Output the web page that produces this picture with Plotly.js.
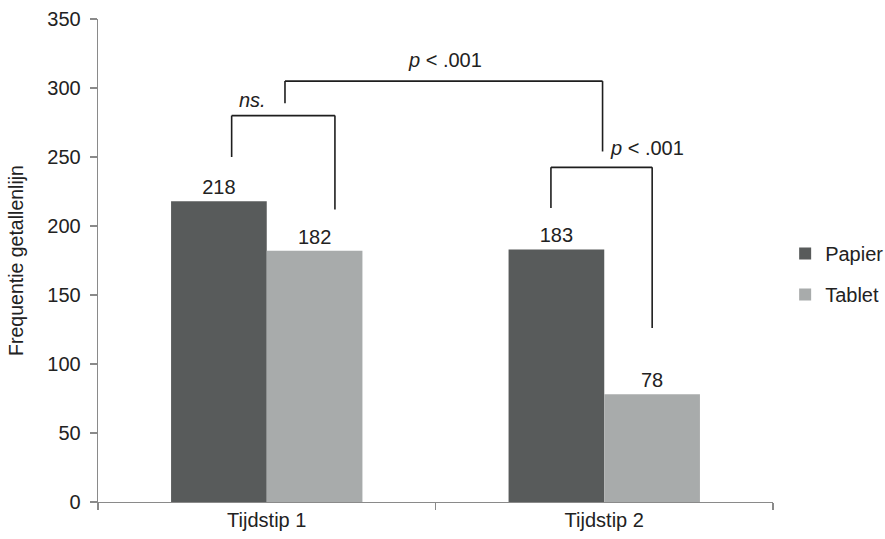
<!DOCTYPE html>
<html>
<head>
<meta charset="utf-8">
<script src="https://cdn.plot.ly/plotly-3.0.1.min.js"></script>
<style>html,body{margin:0;padding:0;background:#fff;}#chart{width:885px;height:539px;}</style>
</head>
<body>
<div id="chart"></div>
<script>
const categories = ['Tijdstip 1', 'Tijdstip 2'];
const papier = [218, 183];
const tablet = [182, 78];
const seriesNames = ['Papier', 'Tablet'];
const yTicks = [0, 50, 100, 150, 200, 250, 300, 350];

// significance brackets: [x left, x right, left leg bottom, top, right leg bottom] (category index / data units)
const bracketLeft = [-0.104, 0.054, 0.842];
const bracketRight = [0.202, 0.995, 1.142];
const bracketLeftBottom = [250, 289, 213];
const bracketTop = [280, 305, 242.5];
const bracketRightBottom = [212, 254, 126];
const sigLabels = ['<i>ns.</i>', '<i>p</i> &lt; .001', '<i>p</i> &lt; .001'];
const sigX = [-0.041, 0.528, 1.127];
const sigY = [291, 320, 256.5];

const FONT = 'Liberation Sans, Arial, sans-serif';
const lineCol = '#1e1e1e';

const shapes = [];
for (let i = 0; i < bracketLeft.length; i++) {
  const base = {type: 'line', xref: 'x', yref: 'y', line: {color: lineCol, width: 1.6}};
  shapes.push(Object.assign({}, base, {x0: bracketLeft[i], x1: bracketLeft[i], y0: bracketLeftBottom[i], y1: bracketTop[i]}));
  shapes.push(Object.assign({}, base, {x0: bracketLeft[i], x1: bracketRight[i], y0: bracketTop[i], y1: bracketTop[i]}));
  shapes.push(Object.assign({}, base, {x0: bracketRight[i], x1: bracketRight[i], y0: bracketTop[i], y1: bracketRightBottom[i]}));
}
const annotations = sigLabels.map((t, i) => ({
  text: t, x: sigX[i], y: sigY[i], xref: 'x', yref: 'y', showarrow: false,
  font: {family: FONT, size: 20, color: '#222'}
}));

const traces = [
  {type: 'bar', name: seriesNames[0], x: categories, y: papier, legendgroup: 'a',
   marker: {color: '#585b5b'}, text: papier.map(String), textposition: 'outside',
   textfont: {family: FONT, size: 20, color: '#222'}, cliponaxis: false},
  {type: 'bar', name: seriesNames[1], x: categories, y: tablet, legendgroup: 'b',
   marker: {color: '#a8abab'}, text: tablet.map(String), textposition: 'outside',
   textfont: {family: FONT, size: 20, color: '#222'}, cliponaxis: false}
];

const layout = {
  width: 885, height: 539,
  margin: {l: 98, r: 112, t: 19, b: 37, autoexpand: false},
  paper_bgcolor: '#fff', plot_bgcolor: '#fff',
  font: {family: FONT, size: 20, color: '#222'},
  barmode: 'group', bargap: 0.433, bargroupgap: 0,
  showlegend: true,
  legend: {x: 1.018, xanchor: 'left', y: 0.555, yanchor: 'top', traceorder: 'grouped',
           tracegroupgap: 12, font: {family: FONT, size: 20, color: '#222'}, bgcolor: 'rgba(0,0,0,0)'},
  xaxis: {type: 'category', range: [-0.5, 1.5], showline: true, linecolor: '#8a8a8a', linewidth: 1.3,
          ticks: 'outside', tickson: 'boundaries', ticklen: 7, tickcolor: '#8a8a8a', tickwidth: 1.3,
          showgrid: false, zeroline: false, tickfont: {family: FONT, size: 20, color: '#222'}, fixedrange: true},
  yaxis: {range: [0, 350], tickvals: yTicks, ticktext: yTicks.map(String), showline: true, linecolor: '#8a8a8a', linewidth: 1.3,
          ticks: 'outside', ticklen: 7, tickcolor: '#8a8a8a', tickwidth: 1.3, ticklabelstandoff: 5,
          showgrid: false, zeroline: false, tickfont: {family: FONT, size: 20, color: '#222'},
          title: {text: 'Frequentie getallenlijn', font: {family: FONT, size: 19.5, color: '#222'}, standoff: 18},
          automargin: false, fixedrange: true},
  shapes: shapes,
  annotations: annotations
};

Plotly.newPlot('chart', traces, layout, {displayModeBar: false, staticPlot: true});
</script>
</body>
</html>
